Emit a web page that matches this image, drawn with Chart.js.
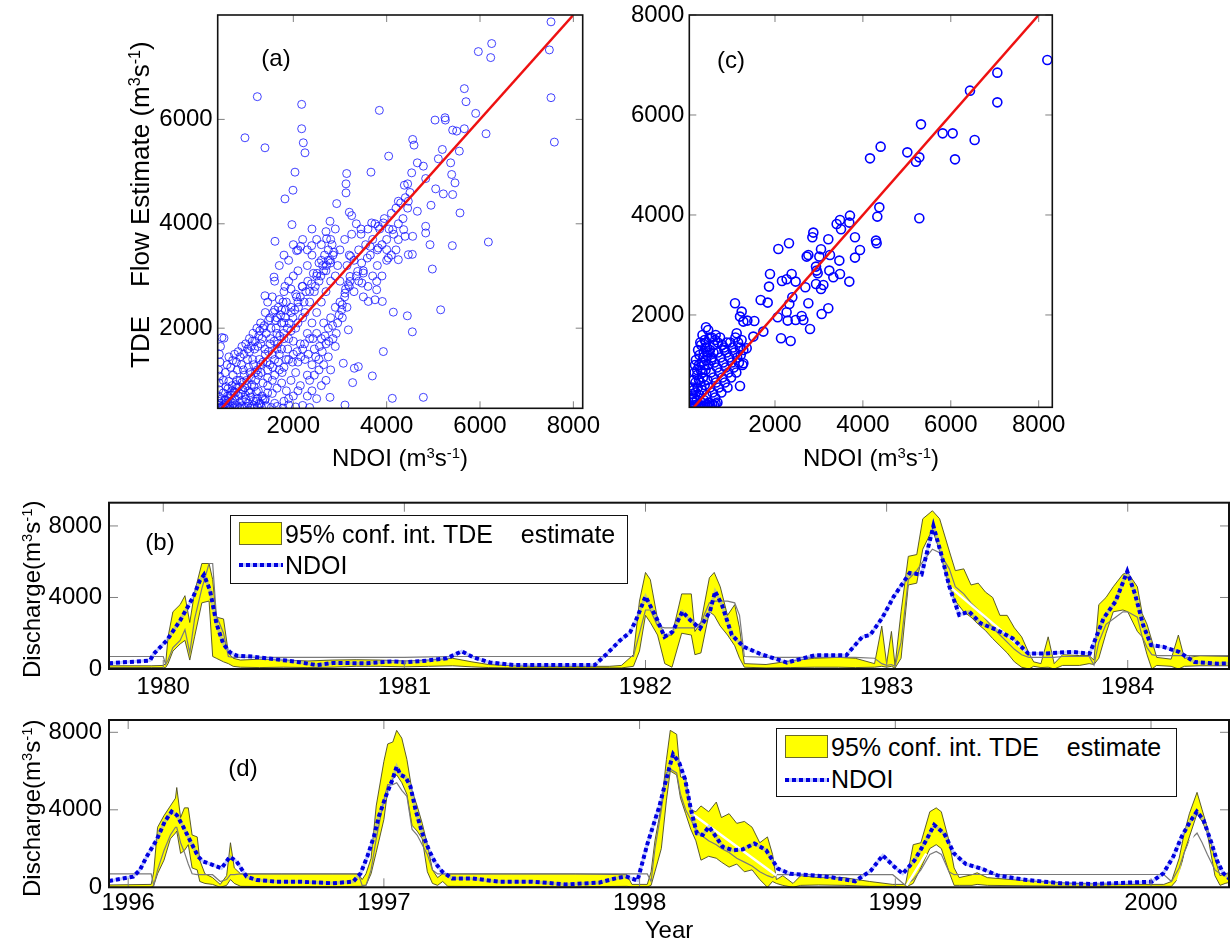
<!DOCTYPE html>
<html>
<head>
<meta charset="utf-8">
<script src="https://cdn.jsdelivr.net/npm/chart.js@4.4.1/dist/chart.umd.min.js"></script>
<style>
  body { margin: 0; width: 1230px; height: 944px; overflow: hidden; background: #fff; position: relative;
         font-family: 'Liberation Sans', Arial, sans-serif; color: #000; }
  canvas { position: absolute; left: 0; top: 0; width: 1230px; height: 944px; }
  .lbl { position: absolute; font-size: 24px; white-space: pre; transform: translate(-50%, -50%); line-height: 1; }
  .rot { position: absolute; font-size: 24px; white-space: pre; transform-origin: 0 0; transform: rotate(-90deg); line-height: 28px; }
  sup { font-size: 0.62em; vertical-align: 0.55em; line-height: 0; }
  .legend { position: absolute; border: 1.5px solid #111; background: #fff; box-sizing: border-box; }
  .sw { position: absolute; width: 43px; height: 23px; background: #ffff00; border: 1px solid #6b6b2a; box-sizing: border-box; }
  .lt { position: absolute; font-size: 25px; white-space: pre; transform: translateY(-50%); line-height: 1; }
  .dl { position: absolute; width: 44px; height: 4px;
        background: repeating-linear-gradient(90deg, #0000dd 0 4px, rgba(130,150,255,0.5) 4px 7px); }
</style>
</head>
<body>
<canvas id="chartA" width="1230" height="944"></canvas>
<canvas id="chartC" width="1230" height="944"></canvas>
<canvas id="chartB" width="1230" height="944"></canvas>
<canvas id="chartD" width="1230" height="944"></canvas>

<div class="lbl" style="left:276px;top:58px">(a)</div>
<div class="lbl" style="left:731px;top:60px">(c)</div>
<div class="lbl" style="left:160px;top:542px">(b)</div>
<div class="lbl" style="left:243px;top:768px">(d)</div>

<div class="lbl" style="left:400px;top:458px">NDOI (m<sup>3</sup>s<sup>-1</sup>)</div>
<div class="lbl" style="left:871px;top:458px">NDOI (m<sup>3</sup>s<sup>-1</sup>)</div>
<div class="rot" style="left:126px;top:368px;font-size:26px">TDE    Flow Estimate (m<sup>3</sup>s<sup>-1</sup>)</div>
<div class="rot" style="left:18px;top:678px">Discharge(m<sup>3</sup>s<sup>-1</sup>)</div>
<div class="rot" style="left:18px;top:897px">Discharge(m<sup>3</sup>s<sup>-1</sup>)</div>
<div class="lbl" style="left:669px;top:930px">Year</div>

<div class="legend" style="left:230px;top:515px;width:398px;height:69px">
  <div class="sw" style="left:8px;top:6px"></div>
  <div class="lt" style="left:54px;top:18px">95% conf. int. TDE    estimate</div>
  <div class="dl" style="left:8px;top:47px"></div>
  <div class="lt" style="left:54px;top:49px">NDOI</div>
</div>
<div class="legend" style="left:776px;top:728px;width:401px;height:69px">
  <div class="sw" style="left:8px;top:6px"></div>
  <div class="lt" style="left:54px;top:18px">95% conf. int. TDE    estimate</div>
  <div class="dl" style="left:8px;top:49px"></div>
  <div class="lt" style="left:54px;top:50px">NDOI</div>
</div>

<script>
// ---- tick labels ----
const flowTicksA = [2000, 4000, 6000, 8000];
const estTicksA = [2000, 4000, 6000];
const flowTicksC = [2000, 4000, 6000, 8000];
const estTicksC = [2000, 4000, 6000, 8000];
const dischargeTicks = [0, 4000, 8000];
const yearTicksB = [1980, 1981, 1982, 1983, 1984];
const yearTicksD = [1996, 1997, 1998, 1999, 2000];

// ---- (a) NDOI vs TDE flow estimate, [NDOI, TDE] ----
const scatterA = [
  [7521,7869],[7486,7331],[7521,6416],[7593,5565],[6250,7453],[5964,7299],[6229,7184],[5664,6589],[5700,6339],[5907,6115],
  [5036,5987],[5250,6032],[5257,5987],[6129,5725],[5414,5795],[5664,5821],[5557,5392],[5500,5776],[6179,3651],[5571,4208],
  [5407,3581],[5414,4560],[5464,4784],[5393,4944],[5371,5168],[5193,5424],[5107,5245],[4950,4355],[4929,3600],[4979,3133],
  [5157,2352],[5050,4669],[5214,4573],[4657,4240],[4836,3824],[4836,3952],[4557,5616],[4586,5507],[4536,4976],[4657,5168],
  [4450,4765],[4836,4867],[4786,5104],[4250,4432],[4464,4432],[4379,4739],[4557,3760],[4550,3414],[4443,2237],[4550,1930],
  [4143,2307],[3929,1552],[3693,1085],[4121,656],[4786,675],[3843,6173],[4043,5296],[3664,4989],[3143,4963],[3129,4765],
  [3129,4592],[2929,4387],[3200,4221],[3250,4157],[2786,4048],[2714,3715],[2393,3581],[2157,3568],[2071,3485],[1971,3984],
  [1607,3664],[1821,4477],[1993,4643],[2036,4989],[964,5648],[1229,6435],[1393,5456],[2179,6288],[2179,5821],[2214,5552],
  [2250,5360],[514,1808],[1586,2979],[1821,2800],[1393,2621],[3821,3952],[3679,4016],[3929,4016],[3643,3568],[3821,3536],
  [4250,3696],[4129,3888],[4364,3888],[4464,3408],[4393,3760],[4250,3312],[4036,3344],[4000,3504],[3786,2736],[3786,2896],
  [3907,2512],[3607,2512],[3750,2544],[3471,2864],[3379,3088],[3500,3056],[3464,3248],[3586,3344],[3229,3376],[3214,2992],
  [3179,2832],[3214,2896],[3107,2672],[3036,2352],[3179,1968],[3071,1328],[3271,957],[3307,1232],[3393,1264],[3107,528],
  [2786,675],
  [390,470],[410,520],[430,480],[450,560],[470,500],[490,470],[520,530],[550,490],[580,470],[610,520],
  [640,480],[680,500],[720,470],[760,530],[800,490],[850,470],[900,510],[960,480],[1020,500],[1080,470],
  [1150,520],[1230,490],[1320,480],[1420,510],[1530,480],[1650,500],[1780,470],[1900,530],[2050,490],[2200,520],
  [2350,480],[400,600],[395,700],[405,820],[410,950],[420,1080],[400,1200],[430,1350],[415,1500],[440,1650],
  [470,1820],[470,650],[500,760],[530,620],[560,880],[590,700],[620,980],[650,600],[680,800],[710,1100],
  [740,650],[770,920],[800,1200],[830,700],[860,1000],[890,1300],[920,820],[950,1100],[980,640],[1010,900],
  [1040,1250],[1070,760],[1100,1050],[1130,1400],[1160,880],[1190,1150],[1220,650],[500,1000],[540,1150],[580,1300],
  [620,1450],[660,1250],[700,1380],[740,1500],[780,1350],[820,1550],[860,1450],[900,1650],[940,1500],[980,1700],
  [1020,1600],[1060,1800],[1100,1650],[1140,1900],[1180,1750],[1220,2000],[1260,1850],[1300,2100],[550,560],[610,650],
  [670,720],[730,780],[790,850],[850,580],[910,620],[970,720],[1030,560],[1090,680],[1150,600],[1210,780],
  [1270,560],[1330,700],[1390,620],[1450,760],[1250,1100],[1300,1300],[1350,950],[1400,1500],[1450,1200],[1500,1700],
  [1550,1000],[1600,1400],[1650,1900],[1700,1200],[1750,1600],[1800,2100],[1850,1400],[1900,1800],[1950,2300],[2000,1500],
  [2050,2000],[2100,2500],[2150,1700],[2200,2200],[1300,1700],[1350,2000],[1400,2300],[1450,2500],[1500,2200],[1550,2600],
  [1600,2350],[1650,2200],[1700,2550],[1750,2350],[1800,2700],[1850,2500],[1900,2900],[1950,2750],[2000,3000],[2050,2650],
  [1250,800],[1350,650],[1450,900],[1550,750],[1650,850],[1750,950],[1850,800],[1950,1000],[2050,1150],[2150,900],
  [1600,1100],[1700,1500],[1800,1250],[1900,1400],[2000,1750],[2100,1350],[2200,1600],[1500,1300],[1650,1600],[1800,1800],
  [1950,1950],[2100,2100],[2250,2300],[2300,1900],[2350,2500],[2400,2100],[2450,2700],[2500,2300],[2550,2900],[2600,2500],
  [2650,3100],[2700,2700],[2750,3300],[2800,2900],[2850,3400],[2900,3000],[2950,3200],[3000,2900],[2250,1400],[2300,1100],
  [2350,1800],[2400,1300],[2450,1600],[2500,1900],[2550,1400],[2600,1800],[2650,2100],[2700,1700],[2750,2000],[2800,2200],
  [2850,1800],[2900,2400],[2950,2100],[3000,2500],[3050,2200],[3100,2600],[3150,2400],[3200,2800],[2300,700],[2400,800],
  [2500,650],[2600,900],[2700,1000],[2800,1200],[2350,1000],[2450,1100],[2550,1200],[2650,1300],[2750,1450],[2900,1650],
  [1600,2900],[1700,3200],[1800,3400],[1900,3300],[2000,3600],[2100,3500],[2200,3700],[2300,3500],[2400,3900],[2500,3700],
  [2600,3600],[2700,3850],[2800,3700],[2900,3900],[3000,3500],[3100,3700],[3150,3200],[3200,3400],[2100,3100],[2200,2800],
  [2300,3200],[2400,3400],[2500,3000],[2600,3300],[2700,3100],[2800,3250],[3300,3300],[3350,3000],[3400,3500],[3450,3800],
  [3500,3100],[3550,3600],[3600,3900],[3650,3400],[3700,3700],[3750,4000],[3800,3500],[3850,3900],[3900,3600],[3950,4100],
  [4000,3700],[4050,3900],[4100,4200],[4150,3800],[4200,4300],[4250,4000],[4300,4400],[4350,4100],[4400,4500],[4450,4300],
  [4500,4600],[3300,2700],[3400,2900],[3500,2600],[3600,2800],[3700,3000],[3800,3200],[3900,3000],[4000,3300],[4100,3400],
  [4200,3500],[3250,3800],[3350,4000],[3450,3900],
  [560,620],[600,840],[640,720],[690,900],[720,560],[760,760],[790,1000],[830,880],[870,740],[900,960],
  [930,1200],[960,860],[1000,1000],[1040,800],[1070,1150],[1110,920],[1150,1300],[1190,1000],[1230,1200],[1270,1400],
  [1310,1150],[1350,1350],[1390,1600],[1430,1350],[1470,1550],[1510,1800],[1550,1500],[1590,1750],[1630,2000],[1670,1700],
  [1710,1850],[1750,2100],[1790,1900],[1830,2200],[1870,2000],[1910,2100],[1950,2400],[1990,2200],[2030,2350],[2070,2600],
  [2110,2400],[2150,2600],[2190,2800],[2230,2500],[2270,2700],[2310,2900],[2350,2700],[2390,2850],[2430,3050],[2470,2800],
  [2510,3050],[2550,3250],[2590,3000],[2630,3200],[2670,3400],[2710,3200],[2750,3500],[2790,3300],[2830,3600],[2870,3450],
  [1020,1400],[1060,1550],[1120,1750],[1170,1600],[1240,1650],[1280,1950],[1330,1800],[1380,2050],[1420,1900],[1470,2150],
  [1520,2000],[1570,2300],[1620,2150],[1680,2400],[1730,2250],[1780,2500],[1830,2350],[1100,500],[1200,600],[1300,550],
  [1400,650],[1600,560],[1800,600],[1900,650],[2000,700],[2100,800],[1450,1050],[1560,1250],[1680,1350],[1760,1150],
  [1880,1600],[1980,1350],[2080,1550],[2160,1450],[2240,1700],[2320,1500],[2420,1800],[2480,1450],[2560,1650],[2620,1550],
  [2680,1850],[2760,1750],[2840,2050],[2920,1900],[2980,2250],[3050,2450],[3120,2750]
];
const fitLineA = [[465, 465], [8000, 8000]];

// ---- (c) NDOI vs TDE flow estimate, [NDOI, TDE] ----
const scatterC = [
  [8197,7100],[7059,6847],[6437,6487],[7059,6253],[5322,5813],[5815,5633],[6043,5633],[6543,5500],[4404,5367],[4162,5133],
  [5011,5253],[5284,5153],[5208,5067],[6096,5113],[5284,3933],[4374,4153],[4328,3967],[4298,3487],[4313,3433],[3706,3987],
  [3479,3900],[3691,3847],[3403,3820],[3502,3713],[3820,3553],[3934,3300],[3820,3147],[3691,2667],[3479,2820],[3464,3087],
  [3327,2753],[3251,3200],[3236,2887],[3213,3513],[3047,3313],[3009,3167],[2872,3647],[2850,3553],[2721,3167],[2759,3200],
  [2933,2967],[2971,2833],[2948,2887],[2933,2620],[3100,2600],[3047,2520],[2690,2553],[2759,2233],[2797,1720],[3062,2020],
  [3213,2133],[2607,1980],[2645,1900],[2470,1900],[2288,1887],[2394,2353],[2326,2220],[2265,2053],[2061,1953],[2379,2820],
  [2265,2713],[2159,2680],[2470,2667],[1886,2820],[1864,2567],[2076,3320],[2318,3433],[2137,1533],[2356,1480],[1674,2300],
  [1834,2247],[1735,1667],[1507,1567],[1530,1880],[1371,1887],[1090,2233],[1242,2067],[1204,1967],[1280,1867],[1128,1633],
  [1356,1333],[1280,1033],[1204,580],[430,1753],
  [120,160],[140,250],[160,350],[180,200],[200,450],[220,300],[240,550],[260,180],[280,400],[300,650],
  [320,250],[340,500],[360,750],[380,300],[400,600],[420,900],[440,400],[460,700],[480,1000],[500,250],
  [520,550],[540,850],[560,1150],[580,450],[600,750],[620,1050],[640,350],[660,650],[680,950],[700,1250],
  [720,550],[740,850],[760,1150],[780,450],[800,750],[820,1050],[840,1350],[860,650],[880,950],[900,1250],
  [920,550],[940,850],[960,1150],[980,1450],[1000,750],[1020,1050],[1040,1350],[1060,950],[1080,1250],[1100,1550],
  [1120,850],[1140,1150],[1160,1450],[1180,1050],[1200,1350],[1220,1200],[1240,1500],[1260,1000],[1280,1300],[200,1100],
  [250,1300],[300,1450],[350,1600],[400,1500],[450,1350],[230,900],[280,1200],[330,1050],[380,1250],[430,1450],
  [480,1700],[520,1300],[560,1550],[600,1400],[650,1600],[700,1450],[750,1550],[800,1400],[850,1300],[900,1450],
  [270,1000],[320,1400],[370,1150],[410,1350],[460,1200],[510,1550],[550,1100],[600,1250],[640,1500],[100,180],
  [130,155],[170,160],[210,170],[250,155],[290,200],[330,160],[370,190],[410,170],[450,200],[490,160],
  [530,190],[570,220],[610,200],[650,230],[690,250],[150,500],[190,650],[230,800],[270,700],[310,900],
  [350,850],[390,1000],[430,1100],[470,1250],[110,300],[120,420],[130,550],[150,700],[170,850],[180,1000]
];
const fitLineC = [[153, 153], [8000, 8000]];

// ---- (b) 1980-1984 time series ----
const bTime = [
  1979.775,1979.95,1980.00,1980.01,1980.02,1980.04,1980.07,1980.09,1980.11,1980.13,
  1980.16,1980.19,1980.205,1980.22,1980.25,1980.27,1980.29,1980.32,1980.40,1980.50,
  1980.60,1980.70,1980.80,1980.90,1981.00,1981.10,1981.20,1981.28,1981.35,1981.45,
  1981.55,1981.65,1981.75,1981.85,1981.90,1981.95,1981.975,1982.00,1982.02,1982.05,
  1982.08,1982.11,1982.15,1982.19,1982.205,1982.23,1982.265,1982.285,1982.31,1982.34,
  1982.37,1982.39,1982.41,1982.50,1982.60,1982.70,1982.80,1982.87,1982.95,1982.98,
  1983.00,1983.02,1983.035,1983.06,1983.09,1983.125,1983.15,1983.19,1983.22,1983.26,
  1983.285,1983.32,1983.35,1983.38,1983.41,1983.44,1983.47,1983.50,1983.53,1983.56,
  1983.59,1983.61,1983.64,1983.67,1983.695,1983.73,1983.80,1983.84,1983.86,1983.88,
  1983.91,1983.94,1983.98,1984.00,1984.04,1984.06,1984.08,1984.10,1984.12,1984.18,
  1984.21,1984.235,1984.30,1984.42
];
const bLow = [
  80,80,80,80,300,1000,1400,1600,500,1800,
  3700,3800,700,600,400,300,150,100,80,100,
  80,100,150,150,120,150,180,120,80,60,
  60,60,60,60,60,150,1000,3000,2600,1900,
  300,100,2000,1900,800,900,3200,3000,2400,1900,
  1300,600,100,60,80,100,100,80,100,150,
  100,150,50,600,4700,4800,6700,7800,6600,4600,
  3800,3200,2900,2500,2150,1700,1300,900,400,100,
  0,150,80,100,0,200,200,300,250,600,
  2000,3200,3300,3200,2100,1800,800,0,200,150,
  0,150,180,180
];
const bHigh = [
  180,180,200,300,1800,3200,3600,4100,2600,4300,
  5900,5900,5000,2900,2800,900,600,500,550,500,
  450,500,520,500,450,500,600,400,250,180,
  150,150,150,150,200,800,3800,5400,5000,2800,
  1900,1900,4200,4200,2100,2600,5100,5400,4600,3000,
  3600,2300,300,250,450,600,650,600,300,2400,
  300,2100,200,3200,6300,6400,8400,8850,8400,6600,
  5500,5600,4700,4800,4300,4000,3000,3000,2300,1800,
  900,400,300,1800,300,800,750,750,500,3600,
  4000,4600,5300,5400,4600,3100,2500,1600,650,550,
  1900,600,750,700
];
const bEst = [
  700,700,700,250,500,1200,1600,2200,900,2800,
  4500,5900,5900,3000,2000,700,650,650,650,650,
  650,650,650,650,650,680,700,700,700,700,
  700,700,700,700,700,700,2000,3300,3300,2400,
  2300,2300,2300,2300,2300,2600,3700,3800,3800,3800,
  3700,3000,700,650,650,650,650,650,600,300,
  200,250,150,1500,5000,5500,6000,6700,6500,5600,
  4600,4200,3700,3300,2800,2300,1900,1500,1100,800,
  650,650,650,650,650,700,700,700,220,1500,
  2500,2800,3200,3200,2900,1800,1200,800,750,750,
  750,750,750,750
];
const bWhiteTime = [1983.26, 1983.588];
const bWhite = [4620, 860];
const bNdoiTime = [
  1979.775,1979.945,1979.96,1980.014,1980.07,1980.124,1980.152,1980.169,1980.194,1980.221,
  1980.249,1980.277,1980.304,1980.373,1980.429,1980.51,1980.567,1980.636,1980.705,1980.843,
  1980.954,1981.0,1981.093,1981.176,1981.238,1981.286,1981.355,1981.452,1981.66,1981.79,
  1981.839,1981.894,1981.936,1981.964,1982.0,1982.046,1982.079,1982.112,1982.153,1982.185,
  1982.226,1982.267,1982.289,1982.317,1982.358,1982.407,1982.473,1982.587,1982.702,1982.833,
  1982.899,1982.932,1982.981,1983.03,1983.096,1983.145,1983.194,1983.227,1983.26,1983.301,
  1983.342,1983.391,1983.457,1983.523,1983.588,1983.654,1983.769,1983.842,1983.9,1983.949,
  1983.998,1984.031,1984.064,1984.097,1984.146,1984.212,1984.277,1984.376,1984.42
];
const bNdoi = [
  320,470,840,1590,2710,4020,4950,5270,4390,2520,
  1400,935,750,690,600,470,370,220,340,320,
  430,370,470,600,990,650,370,225,225,225,
  840,1590,2050,2840,4060,2840,1800,2080,3210,2740,
  2270,3210,4340,3590,1900,1240,860,360,770,770,
  1800,1900,2840,4060,5370,5280,8000,6400,4620,3020,
  3210,2550,2180,1710,860,860,960,860,2840,3770,
  5460,4150,2460,1330,1240,960,390,300,320
];

// ---- (d) 1996-2000 time series ----
const dTime = [
  1995.925,1996.09,1996.10,1996.115,1996.14,1996.165,1996.185,1996.19,1996.205,1996.22,
  1996.235,1996.25,1996.27,1996.28,1996.30,1996.33,1996.36,1996.385,1996.40,1996.415,
  1996.44,1996.60,1996.80,1996.90,1996.915,1996.93,1996.95,1996.97,1997.00,1997.015,
  1997.035,1997.05,1997.07,1997.09,1997.11,1997.13,1997.15,1997.17,1997.19,1997.21,
  1997.23,1997.25,1997.50,1997.75,1997.95,1997.97,1998.03,1998.045,1998.06,1998.085,
  1998.105,1998.12,1998.145,1998.16,1998.18,1998.20,1998.22,1998.24,1998.27,1998.30,
  1998.32,1998.35,1998.38,1998.41,1998.44,1998.47,1998.50,1998.52,1998.535,1998.56,
  1998.60,1998.63,1998.70,1998.80,1998.90,1998.99,1999.04,1999.07,1999.10,1999.135,
  1999.16,1999.18,1999.21,1999.23,1999.25,1999.30,1999.32,1999.36,1999.50,1999.70,
  1999.90,2000.05,2000.08,2000.11,2000.13,2000.15,2000.18,2000.20,2000.22,2000.25,
  2000.27,2000.29,2000.305
];
const dLow = [
  0,0,100,700,1400,2500,2800,2900,1750,1900,
  2200,1000,900,300,200,150,0,100,400,200,
  50,30,30,50,50,100,700,1800,3500,5000,
  5600,5800,5400,4800,3200,2900,2500,800,200,100,
  300,50,30,30,50,20,20,100,800,2000,
  4500,6000,5800,4600,3800,3000,2400,1400,1600,1500,
  1300,1040,1200,800,900,400,0,300,200,100,
  0,100,120,100,50,50,0,200,1000,2000,
  2200,2000,800,100,100,100,150,100,80,50,
  50,50,50,500,1800,2600,3800,3400,2800,600,
  100,200,250
];
const dHigh = [
  120,150,800,3100,3700,4200,4600,5150,3600,4100,
  4100,2700,2600,1400,700,500,150,600,2300,1000,
  690,690,690,690,400,700,1500,4200,6500,7400,
  7500,8100,7700,6600,5000,4200,3300,2200,900,500,
  700,690,690,690,650,150,150,800,2400,4200,
  6600,8100,7900,5700,5600,4000,3900,4200,3900,4400,
  3600,3800,3300,3400,3100,2300,2600,1700,400,600,
  200,600,500,500,300,150,150,2200,2300,3900,
  4100,3900,2400,1000,500,650,750,500,350,200,
  150,150,300,1500,2800,3800,4900,4000,3100,1500,
  600,700,750
];
const dEst = [
  690,690,100,900,1900,2700,3100,3100,2300,1800,
  1200,700,650,650,650,650,300,400,650,650,
  690,690,690,690,100,100,900,2500,4500,5300,
  5300,5400,5000,4700,3000,2700,2200,1700,900,690,
  690,690,690,690,690,690,690,300,2000,4000,
  5900,6100,5900,4800,4000,3500,3000,2700,2400,2200,
  2000,1800,1500,1300,1100,800,600,500,650,650,
  650,650,650,650,650,650,100,400,900,1700,
  1850,1700,800,650,660,660,660,660,660,660,
  660,660,300,1000,1800,2400,2800,2300,1700,900,
  700,690,690
];
const dWhiteTime = [1998.20, 1998.535, 1998.6, 1999.044, 1999.121, 1999.5, 2000.10, 2000.165];
const dWhite = [3850, 610, null, 90, 1740, null, 120, 2790];
const dNdoiTime = [
  1995.925,1996.02,1996.046,1996.072,1996.111,1996.143,1996.17,1996.19,1996.215,1996.241,
  1996.274,1996.293,1996.332,1996.365,1996.398,1996.424,1996.463,1996.502,1996.58,1996.671,
  1996.798,1996.88,1996.909,1996.935,1996.961,1996.98,1997.007,1997.033,1997.05,1997.065,
  1997.085,1997.104,1997.124,1997.15,1997.176,1997.202,1997.228,1997.267,1997.346,1997.45,
  1997.58,1997.71,1997.841,1997.906,1997.946,1997.992,1998.031,1998.077,1998.116,1998.131,
  1998.155,1998.178,1998.201,1998.224,1998.247,1998.271,1998.294,1998.325,1998.364,1998.402,
  1998.449,1998.495,1998.541,1998.588,1998.688,1998.75,1998.843,1998.905,1998.951,1998.998,
  1999.029,1999.075,1999.121,1999.152,1999.191,1999.23,1999.276,1999.338,1999.4,1999.514,
  1999.644,1999.774,1999.905,2000.003,2000.048,2000.087,2000.12,2000.153,2000.179,2000.205,
  2000.237,2000.257,2000.283,2000.305
];
const dNdoi = [
  330,550,900,1580,2440,3390,3910,3730,3130,2440,
  1580,1330,1150,980,1580,1330,550,380,290,290,
  210,290,720,1580,2620,3650,4680,5540,6230,5800,
  5680,5200,3990,2790,1930,1240,810,460,460,290,
  290,150,240,460,560,350,2260,4170,6170,6870,
  6430,5570,4000,2780,2700,3130,2700,2090,1910,1950,
  2260,1910,960,700,610,520,310,870,1650,1040,
  700,1390,2430,3220,2780,1740,1200,960,610,380,
  210,170,240,290,720,1580,2620,3390,3910,3480,
  2270,1410,720,460
];

Chart.defaults.font.family = "'Liberation Sans', Arial, sans-serif";
Chart.defaults.font.size = 24;
Chart.defaults.color = '#000';

const pts = (xs, ys) => xs.map((x, i) => ({ x, y: ys[i] }));
const pairs = list => list.map(p => ({ x: p[0], y: p[1] }));

// fixed space reserved for the tick labels of every axis
const Y_AXIS_W = 100;
const X_AXIS_H = 50;

// box round the plot area with ticks pointing inwards, like the original figure
const framePlugin = {
  id: 'frame',
  afterDraw(chart, args, opts) {
    const { ctx, chartArea: a, scales: { x, y } } = chart;
    const len = opts.tick || 7;
    ctx.save();
    ctx.strokeStyle = '#808080';
    ctx.lineWidth = 1;
    ctx.beginPath();
    x.ticks.forEach(t => {
      const px = x.getPixelForValue(t.value);
      ctx.moveTo(px, a.bottom); ctx.lineTo(px, a.bottom - len);
      ctx.moveTo(px, a.top); ctx.lineTo(px, a.top + len);
    });
    y.ticks.forEach(t => {
      const py = y.getPixelForValue(t.value);
      ctx.moveTo(a.left, py); ctx.lineTo(a.left + len, py);
      ctx.moveTo(a.right, py); ctx.lineTo(a.right - len, py);
    });
    ctx.stroke();
    ctx.strokeStyle = '#111';
    ctx.lineWidth = opts.width || 1.5;
    ctx.strokeRect(a.left, a.top, a.right - a.left, a.bottom - a.top);
    ctx.restore();
  }
};

function axis(min, max, ticks, pad, isX) {
  return {
    type: 'linear',
    position: isX ? 'bottom' : 'left',
    min, max,
    grid: { display: false, drawTicks: false },
    border: { display: false },
    ticks: { padding: pad, autoSkip: false, maxRotation: 0, callback: v => String(v) },
    afterBuildTicks: s => { s.ticks = ticks.map(v => ({ value: v })); },
    afterFit: s => {
      if (isX) s.height = X_AXIS_H; else s.width = Y_AXIS_W;
      s.paddingLeft = s.paddingRight = s.paddingTop = s.paddingBottom = 0;
    }
  };
}

// plot rectangle in page pixels -> layout padding
function area(left, top, right, bottom) {
  return { left: left - Y_AXIS_W, top, right: 1230 - right, bottom: 944 - bottom - X_AXIS_H };
}

function baseOptions(padding, xAxis, yAxis, frame) {
  return {
    responsive: false,
    animation: false,
    events: [],
    devicePixelRatio: 1,
    layout: { padding },
    scales: { x: xAxis, y: yAxis },
    plugins: { legend: { display: false }, tooltip: { enabled: false }, frame }
  };
}

function scatterChart(id, points, fitLine, padding, xAxis, yAxis, pointStyle) {
  return new Chart(document.getElementById(id), {
    type: 'scatter',
    data: {
      datasets: [
        { data: pairs(fitLine), showLine: true, borderColor: '#ee1111', borderWidth: 2.5, pointRadius: 0 },
        { data: pairs(points), pointRadius: pointStyle.r, borderWidth: pointStyle.w,
          borderColor: pointStyle.c, backgroundColor: 'rgba(0,0,0,0)' }
      ]
    },
    options: baseOptions(padding, xAxis, yAxis, { width: 1.6, tick: 7 }),
    plugins: [framePlugin]
  });
}

function seriesChart(id, s, padding, xAxis, yAxis) {
  const line = { pointRadius: 0, tension: 0, fill: false };
  return new Chart(document.getElementById(id), {
    type: 'line',
    data: {
      datasets: [
        { ...line, data: pts(s.ndoiT, s.ndoi), borderColor: '#0000e0', borderWidth: 4, borderDash: [4, 3] },
        { ...line, data: pts(s.ndoiT, s.ndoi), borderColor: 'rgba(120,140,255,0.45)', borderWidth: 3 },
        { ...line, data: pts(s.whiteT, s.white), borderColor: '#ffffff', borderWidth: 2.5, spanGaps: false },
        { ...line, data: pts(s.t, s.est), borderColor: '#7a7a7a', borderWidth: 1.2 },
        { ...line, data: pts(s.t, s.lo), borderColor: '#4a4a22', borderWidth: 0.9 },
        { ...line, data: pts(s.t, s.hi), borderColor: '#4a4a22', borderWidth: 0.9,
          fill: '-1', backgroundColor: '#ffff00' }
      ]
    },
    options: baseOptions(padding, xAxis, yAxis, { width: 2, tick: 9 }),
    plugins: [framePlugin]
  });
}

scatterChart('chartA', scatterA, fitLineA, area(217.7, 15, 582.7, 408.3),
  axis(380, 8200, flowTicksA, 4, true), axis(465, 8000, estTicksA, 5, false),
  { r: 4, w: 1, c: 'rgba(20,20,255,0.8)' });

scatterChart('chartC', scatterC, fitLineC, area(689.3, 15, 1052.3, 407.3),
  axis(50, 8310, flowTicksC, 4, true), axis(153, 8000, estTicksC, 5, false),
  { r: 4.5, w: 1.6, c: '#0000ff' });

seriesChart('chartB',
  { t: bTime, lo: bLow, hi: bHigh, est: bEst, whiteT: bWhiteTime, white: bWhite, ndoiT: bNdoiTime, ndoi: bNdoi },
  area(109, 502.7, 1229, 669),
  axis(1979.775, 1984.42, yearTicksB, 4, true), axis(0, 9300, dischargeTicks, 7, false));

seriesChart('chartD',
  { t: dTime, lo: dLow, hi: dHigh, est: dEst, whiteT: dWhiteTime, white: dWhite, ndoiT: dNdoiTime, ndoi: dNdoi },
  area(109, 720, 1229, 887.3),
  axis(1995.925, 2000.305, yearTicksD, 2, true), axis(0, 8635, dischargeTicks, 7, false));
</script>
</body>
</html>
